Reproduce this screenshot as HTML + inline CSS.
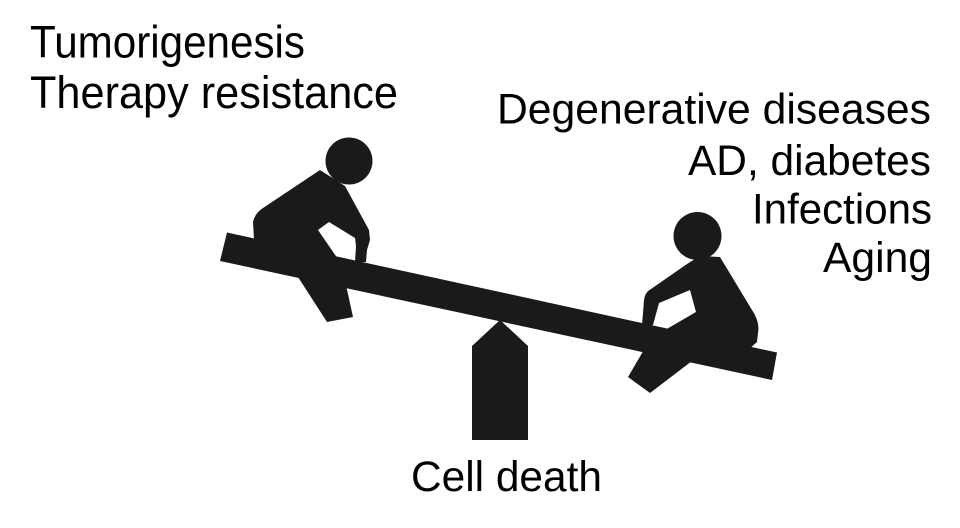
<!DOCTYPE html>
<html>
<head>
<meta charset="utf-8">
<style>
html,body{margin:0;padding:0;background:#fff;}
svg{display:block;}
text{font-family:"Liberation Sans",Arial,sans-serif;fill:#000;}
</style>
</head>
<body>
<svg width="960" height="528" viewBox="0 0 960 528" xmlns="http://www.w3.org/2000/svg">
<rect width="960" height="528" fill="#fff"/>
<g fill="#1a1a1a">
  <!-- fulcrum -->
  <path d="M472,440 L472,346 L500,320 L528,346 L528,440 Z"/>
  <!-- beam -->
  <path d="M227,232.5 L777,352.5 L772,380 L220,261 Z"/>
  <!-- left person -->
  <circle cx="349" cy="161" r="23.5"/>
  <path d="M320,170 L345,186 L369,230 L370,240 L367,250 L366,262 L355,262 L356,246 L355,238 L329,222 L318,230 L340,262 L300,275 L254,240 L253,222 Q255,213 263,208 Z"/>
  <path d="M292,268 L298,277 L327,322 L353,317 L346,285 Z"/>
  <!-- right person -->
  <circle cx="697.5" cy="236" r="24"/>
  <path d="M720,257 L752,310 Q760,322 758,333 L757,342 L748,350 L665,330 L696,312 L690,290 L659,303 L653,325 L642,325 L643,313 L644,300 Q645,292 651,289 L687,264 L700,256 Z"/>
  <path d="M645,348 L628,377 L650,393 L692,361 L685,350 Z"/>
</g>
<g font-size="45">
  <text x="30" y="57.5" textLength="275" lengthAdjust="spacingAndGlyphs">Tumorigenesis</text>
  <text x="30" y="108" textLength="368" lengthAdjust="spacingAndGlyphs">Therapy resistance</text>
</g>
<g font-size="43">
  <text x="497" y="123.5" textLength="434" lengthAdjust="spacingAndGlyphs">Degenerative diseases</text>
  <text x="688" y="175" textLength="243" lengthAdjust="spacingAndGlyphs">AD, diabetes</text>
  <text x="752" y="223.5" textLength="180" lengthAdjust="spacingAndGlyphs">Infections</text>
  <text x="823" y="272" textLength="109" lengthAdjust="spacingAndGlyphs">Aging</text>
  <text x="411" y="491" textLength="191" lengthAdjust="spacingAndGlyphs">Cell death</text>
</g>
</svg>
</body>
</html>
